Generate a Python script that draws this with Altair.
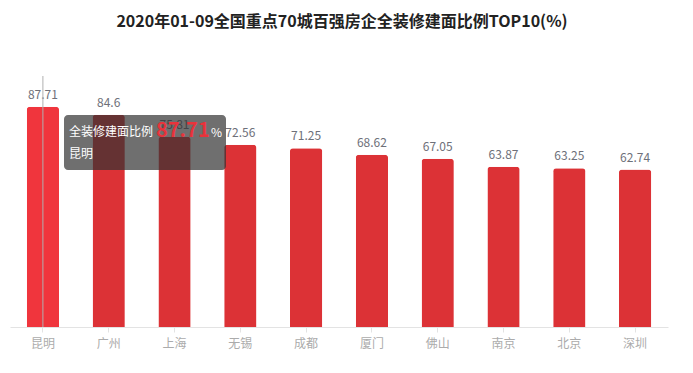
import altair as alt
import pandas as pd

cities = ["昆明", "广州", "上海", "无锡", "成都", "厦门", "佛山", "南京", "北京", "深圳"]
values = [87.71, 84.6, 75.81, 72.56, 71.25, 68.62, 67.05, 63.87, 63.25, 62.74]
title_text = "2020年01-09全国重点70城百强房企全装修建面比例TOP10(%)"
series_name = "全装修建面比例"
hover_index = 0

FONT = "Noto Sans CJK SC"
W, H = 658, 251

df = pd.DataFrame({"city": cities, "value": values})
df["hover"] = [i == hover_index for i in range(len(cities))]

xenc = alt.X("city:N", sort=cities, scale=alt.Scale(paddingInner=0.51, paddingOuter=0.255),
             axis=alt.Axis(title=None, labelAngle=0, labelColor="#ababab", labelFontSize=12,
                           labelFont=FONT, labelPadding=6, domainColor="#e3e3e3", tickColor="#e3e3e3",
                           tickSize=5, grid=False))
yenc = alt.Y("value:Q", scale=alt.Scale(domain=[0, 100]), axis=None)

base = alt.Chart(df)

bars = base.mark_bar(cornerRadiusTopLeft=3, cornerRadiusTopRight=3).encode(
    x=xenc, y=yenc,
    color=alt.condition("datum.hover", alt.value("#f0353d"), alt.value("#dc3236")),
)

labels = base.mark_text(baseline="bottom", dy=-5, fontSize=12, font=FONT, color="#6e7079").encode(
    x=alt.X("city:N", sort=cities), y="value:Q", text=alt.Text("value:Q", format="~r"),
)

pointer = base.transform_filter("datum.hover").mark_rule(color="#b0b0b0", strokeWidth=1).encode(
    x=alt.X("city:N", sort=cities), y=alt.value(0), y2=alt.value(H),
)

hv = df[df["hover"]].iloc[0]
tip_df = pd.DataFrame({"name": [series_name], "val": [f"{hv['value']}"], "city": [hv["city"]]})
tip = alt.Chart(tip_df)
tip_box = tip.mark_rect(color="#323232", opacity=0.7, cornerRadius=4).encode(
    x=alt.value(54), x2=alt.value(216), y=alt.value(39), y2=alt.value(94))
tip_name = tip.mark_text(align="left", baseline="middle", fontSize=12, font=FONT, color="#ffffff").encode(
    x=alt.value(59), y=alt.value(56), text="name:N")
tip_val = tip.mark_text(align="left", baseline="middle", fontSize=20, fontWeight="bold", font=FONT,
                        color="#e8333b").encode(x=alt.value(146), y=alt.value(55), text="val:N")
tip_pct = tip.mark_text(align="left", baseline="middle", fontSize=12, font=FONT, color="#ffffff").encode(
    x=alt.value(201), y=alt.value(57), text=alt.value("%"))
tip_city = tip.mark_text(align="left", baseline="middle", fontSize=12, font=FONT, color="#ffffff").encode(
    x=alt.value(59), y=alt.value(78), text="city:N")

title = alt.Chart(pd.DataFrame({"t": [title_text]})).mark_text(
    align="center", baseline="middle", fontSize=16, fontWeight="bold", font=FONT, color="#222222"
).encode(x=alt.value(332), y=alt.value(-54), text="t:N")

chart = alt.layer(bars, labels, pointer, tip_box, tip_name, tip_val, tip_pct, tip_city, title).properties(
    width=W, height=H,
    autosize=alt.AutoSizeParams(type="none"),
    padding={"left": 2, "top": 68, "right": 5, "bottom": 30},
).configure_view(stroke=None)

chart.save("out.html", embed_options={"renderer": "svg", "actions": False})
